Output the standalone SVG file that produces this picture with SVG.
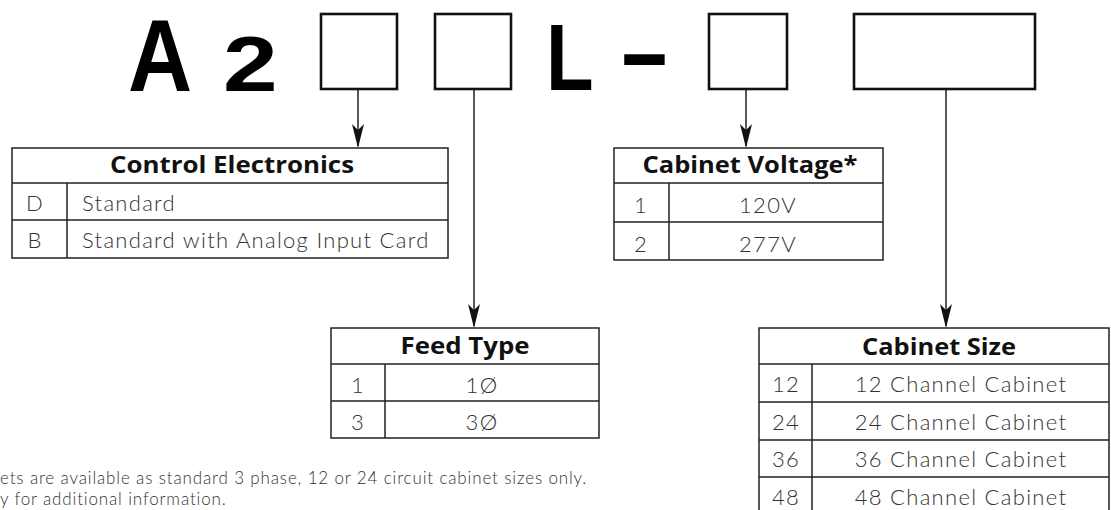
<svg xmlns="http://www.w3.org/2000/svg" width="1111" height="510" viewBox="0 0 1111 510">
<style>
.big{font-family:"Liberation Sans",Arial,sans-serif;font-weight:700;fill:#000}
.box{fill:#fff;stroke:#111;stroke-width:2.6}
.tbl{fill:#fff;stroke:#222;stroke-width:1.5}
.rule{stroke:#222;stroke-width:1.5;fill:none}
.hd{font-family:"Open Sans","Noto Sans",sans-serif;font-weight:700;font-size:23px;fill:#111;text-anchor:middle}
.cell{font-family:Lato,"Noto Sans",sans-serif;font-weight:300;font-size:22px;letter-spacing:1.3px;fill:#333;text-anchor:middle}
.cellL{font-family:Lato,"Noto Sans",sans-serif;font-weight:300;font-size:22px;letter-spacing:1.3px;fill:#333}
.note{font-family:Lato,"Noto Sans",sans-serif;font-weight:300;font-size:17px;letter-spacing:0.85px;fill:#333}
.conn{stroke:#111;stroke-width:1.4;fill:none}
</style>
<defs>
<marker id="arr" viewBox="0 0 24 12" markerWidth="24" markerHeight="12" refX="22" refY="6" orient="auto" markerUnits="userSpaceOnUse">
<path d="M0,0 L24,6 L0,12 L6,6 Z" fill="#111"/>
</marker>
</defs>

<g id="code">
<text class="big" font-size="102" transform="translate(128,91) scale(0.87,1)">A</text>
<text class="big" font-size="78" transform="translate(223,91) scale(1.26,1)">2</text>
<rect id="slot1" class="box" x="321" y="14" width="76" height="75"/>
<rect id="slot2" class="box" x="435" y="14" width="76" height="75"/>
<text class="big" font-size="95" transform="translate(546,90) scale(0.82,1)">L</text>
<text class="big" font-size="90" transform="translate(618,83) scale(1.77,1)">-</text>
<rect id="slot3" class="box" x="709" y="14" width="78" height="75"/>
<rect id="slot4" class="box" x="854" y="14" width="181" height="75"/>
</g>

<g id="connectors">
<line class="conn" x1="358" y1="90" x2="358" y2="146" marker-end="url(#arr)"/>
<line class="conn" x1="474" y1="90" x2="474" y2="326" marker-end="url(#arr)"/>
<line class="conn" x1="746" y1="90" x2="746" y2="146" marker-end="url(#arr)"/>
<line class="conn" x1="946" y1="90" x2="946" y2="326" marker-end="url(#arr)"/>
</g>

<g id="control-electronics">
<rect class="tbl" x="12" y="148" width="436" height="110"/>
<path class="rule" d="M12,183 H448 M12,220 H448 M67,183 V258"/>
<text class="hd" x="232" y="173" textLength="244" lengthAdjust="spacingAndGlyphs">Control Electronics</text>
<text class="cell" x="35" y="211">D</text>
<text class="cellL" x="82" y="211">Standard</text>
<text class="cell" x="35" y="248">B</text>
<text class="cellL" x="82" y="248">Standard with Analog Input Card</text>
</g>

<g id="cabinet-voltage">
<rect class="tbl" x="614" y="148" width="269" height="112"/>
<path class="rule" d="M614,183 H883 M614,222 H883 M669,183 V260"/>
<text class="hd" x="750" y="173" textLength="215" lengthAdjust="spacingAndGlyphs">Cabinet Voltage*</text>
<text class="cell" x="641" y="213">1</text>
<text class="cell" x="768" y="213">120V</text>
<text class="cell" x="641" y="252">2</text>
<text class="cell" x="768" y="252">277V</text>
</g>

<g id="feed-type">
<rect class="tbl" x="331" y="328" width="268" height="110"/>
<path class="rule" d="M331,364 H599 M331,401 H599 M385,364 V438"/>
<text class="hd" x="465" y="354" textLength="129" lengthAdjust="spacingAndGlyphs">Feed Type</text>
<text class="cell" x="358" y="393">1</text>
<text class="cell" x="482" y="393">1Ø</text>
<text class="cell" x="358" y="430">3</text>
<text class="cell" x="482" y="430">3Ø</text>
</g>

<g id="cabinet-size">
<rect class="tbl" x="759" y="328" width="350" height="187"/>
<path class="rule" d="M759,364 H1109 M759,402 H1109 M759,440 H1109 M759,477 H1109 M812,364 V515"/>
<text class="hd" x="939" y="355" textLength="154" lengthAdjust="spacingAndGlyphs">Cabinet Size</text>
<text class="cell" x="786" y="392">12</text>
<text class="cell" x="961" y="392">12 Channel Cabinet</text>
<text class="cell" x="786" y="430">24</text>
<text class="cell" x="961" y="430">24 Channel Cabinet</text>
<text class="cell" x="786" y="467">36</text>
<text class="cell" x="961" y="467">36 Channel Cabinet</text>
<text class="cell" x="786" y="505">48</text>
<text class="cell" x="961" y="505">48 Channel Cabinet</text>
</g>

<g id="footnote">
<text class="note" x="0" y="484">ets are available as standard 3 phase, 12 or 24 circuit cabinet sizes only.</text>
<text class="note" x="0" y="505">y for additional information.</text>
</g>
</svg>
